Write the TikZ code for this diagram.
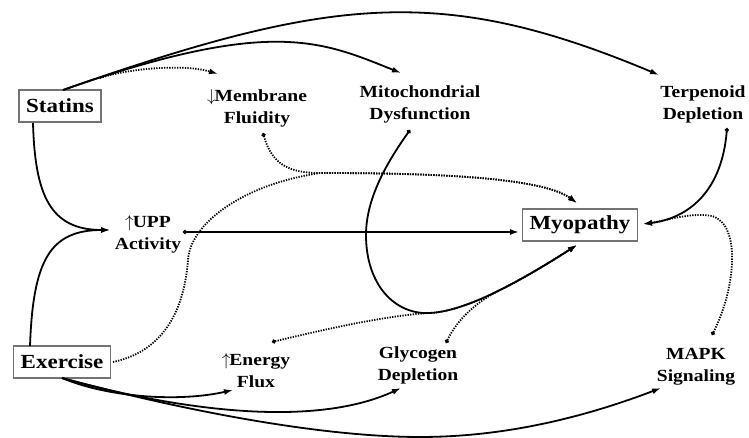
\documentclass[tikz,border=0pt]{standalone}
\usepackage{fontspec}
\setmainfont{Liberation Serif}[FakeStretch=1.15]
\usetikzlibrary{arrows.meta}
\newcommand\bxfont{\fontsize{20}{24}\selectfont\bfseries}
\newcommand\lbfont{\fontsize{17}{22}\selectfont\bfseries}
\newcommand\upar{$\uparrow$\kern-1pt}
\newcommand\dnar{$\downarrow$\kern-1pt}
\begin{document}
\begin{tikzpicture}[x=1pt,y=-1pt,
  box/.style={draw=black!55, line width=1.5pt, fill=white, font=\bxfont, inner xsep=7pt, inner ysep=0pt, minimum height=32pt},
  lbl/.style={align=center, font=\lbfont, inner sep=0pt},
  conn/.style={line width=1.8pt, -{Latex[length=9pt,width=6pt]}},
  dstart/.style={{Circle[length=4pt]}-{Latex[length=9pt,width=6pt]}},
  dotc/.style={line width=1.8pt, dash pattern=on 1.3pt off 1.3pt}]
\useasboundingbox (0,0) rectangle (749,438);
% nodes
\node[box] (statins) at (60,106) {Statins};
\node[box] (exercise) at (62,362) {Exercise};
\node[box] (myo) at (580,225) {Myopathy};
\node[lbl] (memb) at (257,108) {\dnar Membrane\\Fluidity};
\node[lbl] (mito) at (420,104) {Mitochondrial\\Dysfunction};
\node[lbl] (terp) at (703,104) {Terpenoid\\Depletion};
\node[lbl] (upp) at (148,234) {\upar UPP\\Activity};
\node[lbl] (energy) at (256,371) {\upar Energy\\Flux};
\node[lbl] (glyco) at (418,365) {Glycogen\\Depletion};
\node[lbl] (mapk) at (696,367) {MAPK\\Signaling};
% Statins
\draw[conn] ([shift={(3,-16)}]statins.center) .. controls (331,-4) and (442,-16) .. ([shift={(-44,-29)}]terp.center);
\draw[conn] ([shift={(3,-16)}]statins.center) .. controls (271,17) and (321,41) .. ([shift={(-19,-31)}]mito.center);
\draw[conn,dotc] ([shift={(40,-28)}]statins.center) .. controls (130,68) and (185,64) .. ([shift={(-39,-34)}]memb.center);
\draw[conn] ([shift={(-27,17)}]statins.center) .. controls (35,195) and (50,230) .. ([shift={(-38,-4)}]upp.center);
% Exercise
\draw[conn] ([shift={(-32,-16)}]exercise.center) .. controls (33,260) and (50,230) .. ([shift={(-38,-4)}]upp.center);
\draw[conn,dotc] ([shift={(51,0)}]exercise.center) .. controls (170,350) and (185,300) .. (188,260)
  .. controls (190,225) and (240,185) .. (320,173) .. controls (420,173) and (540,176) .. ([shift={(-3,-22)}]myo.center);
\draw[conn] ([shift={(0,16)}]exercise.center) .. controls (110,398) and (180,402) .. ([shift={(-23,19)}]energy.center);
\draw[conn] ([shift={(0,16)}]exercise.center) .. controls (170,408) and (310,430) .. ([shift={(-17,23)}]glyco.center);
\draw[conn] ([shift={(0,16)}]exercise.center) .. controls (200,415) and (330,437) .. (420,437)
  .. controls (510,437) and (590,415) .. ([shift={(-35,21)}]mapk.center);
% into Myopathy
\draw[conn,dstart] ([shift={(35,-2)}]upp.center) -- ([shift={(-61,7)}]myo.center);
\draw[conn,dstart] ([shift={(-10,26)}]mito.center) .. controls (385,165) and (366,200) .. (366,235)
  .. controls (366,285) and (395,315) .. (430,313) .. controls (470,311) and (530,275) .. ([shift={(-3,20)}]myo.center);
\draw[conn,dstart,dotc] ([shift={(6,25)}]memb.center) .. controls (272,165) and (290,173) .. (320,173)
  .. controls (420,173) and (540,176) .. ([shift={(-3,-22)}]myo.center);
\draw[conn,dstart,dotc] ([shift={(16,-29)}]energy.center) .. controls (330,328) and (390,315) .. (430,313)
  .. controls (470,311) and (530,275) .. ([shift={(-3,20)}]myo.center);
\draw[conn,dstart,dotc] ([shift={(28,-22)}]glyco.center) .. controls (458,318) and (478,301) .. (500.9,289.4)
  .. controls (526.75,276.5) and (553.5,260) .. ([shift={(-3,20)}]myo.center);
\draw[conn,dstart] ([shift={(24,24)}]terp.center) .. controls (722,190) and (690,218) .. ([shift={(63,-1)}]myo.center);
\draw[conn,dstart,dotc] ([shift={(16,-32)}]mapk.center) .. controls (735,290) and (742,225) .. (712,216)
  .. controls (690,212) and (665,221) .. ([shift={(63,-1)}]myo.center);
\end{tikzpicture}
\end{document}
